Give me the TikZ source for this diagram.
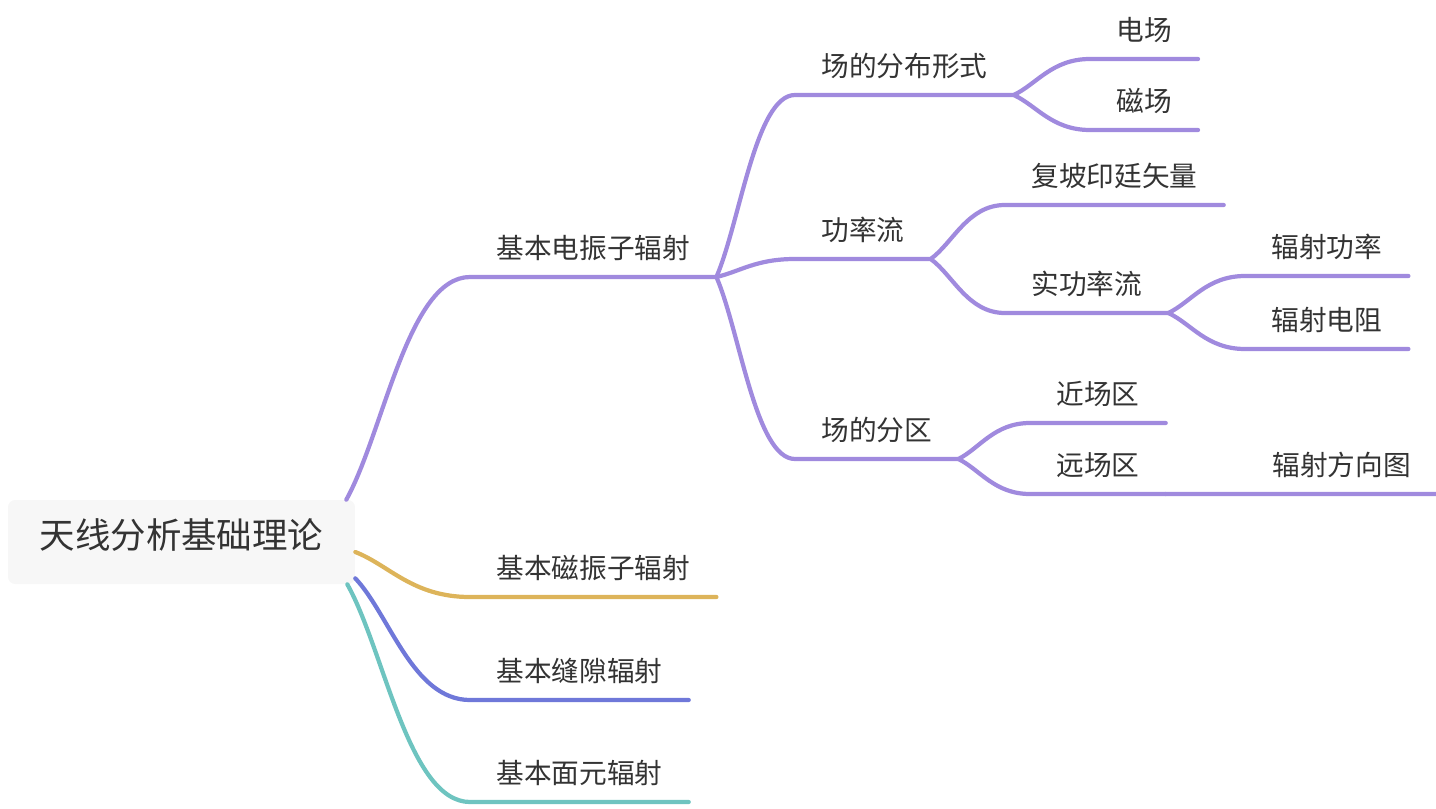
\documentclass[tikz,border=0pt]{standalone}
\usepackage{fontspec}
\newfontfamily\cjk{Noto Sans CJK SC}
\usepackage{tikz}
\usetikzlibrary{positioning,calc}
\definecolor{purp}{HTML}{A08ADE}
\definecolor{gold}{HTML}{DDB45A}
\definecolor{indigo}{HTML}{6F78D9}
\definecolor{teal}{HTML}{6EC4C0}
\definecolor{ink}{HTML}{333333}
\definecolor{rootfill}{HTML}{F7F7F7}

\begin{document}
\begin{tikzpicture}[
    x=0.02cm, y=-0.02cm,
    topic/.style={anchor=south west, inner xsep=0.52cm, inner ysep=0pt, text height=0.6cm, text depth=0.37cm, text=ink, font=\cjk\fontsize{15.75}{18}\selectfont},
    rootbox/.style={fill=rootfill, rounded corners=4pt, minimum width=6.94cm, minimum height=1.68cm, text height=0.75em, text depth=0pt, text=ink, font=\cjk\fontsize{20.2}{24}\selectfont},
    line/.style={line width=2.4pt, line cap=round},
    branch/.style={to path={let \p1=(\tikztostart), \p2=(\tikztotarget) in
      .. controls ($(\p1)!0.3!(\p2)$) and ({0.5*\x1+0.5*\x2},\y2) .. (\tikztotarget) \tikztonodes}}
  ]
    \useasboundingbox (0,0) rectangle (1436,808);

    \node[rootbox] (root) at (181.5,542) {天线分析基础理论};

    % first level
    \node[topic] (e1) at (470,277) {基本电振子辐射};
    \node[topic] (e2) at (470,597) {基本磁振子辐射};
    \node[topic] (e3) at (470,700) {基本缝隙辐射};
    \node[topic] (e4) at (470,802) {基本面元辐射};

    % second level
    \node[topic] (f1) at (795,95) {场的分布形式};
    \node[topic] (f2) at (795,259) {功率流};
    \node[topic] (f3) at (795,459) {场的分区};

    % third level
    \node[topic] (g1) at (1090,59) {电场};
    \node[topic] (g2) at (1090,130) {磁场};
    \node[topic] (h1) at (1005,205) {复坡印廷矢量};
    \node[topic] (h2) at (1005,313) {实功率流};
    \node[topic] (i1) at (1245,276) {辐射功率};
    \node[topic] (i2) at (1245,349) {辐射电阻};
    \node[topic] (j1) at (1030,423) {近场区};
    \node[topic] (j2) at (1030,494) {远场区};
    \node[topic] (k1) at (1246,494) {辐射方向图};

    \draw[line, purp] ($(root.north east)+(-9,0)$) to[branch] (e1.south west) -- (e1.south east);
    \draw[line, gold] ($(root.east)+(0,10)$) to[branch] (e2.south west) -- (e2.south east);
    \draw[line, indigo] ($(root.south east)+(0,-6)$) to[branch] (e3.south west) -- (e3.south east);
    \draw[line, teal] ($(root.south east)+(-8,0)$) to[branch] (e4.south west) -- (e4.south east);

    \foreach \a/\b in {e1/f1, e1/f2, e1/f3, f1/g1, f1/g2, f2/h1, f2/h2, h2/i1, h2/i2, f3/j1, f3/j2, j2/k1}
      \draw[line, purp] (\a.south east) to[branch] (\b.south west) -- (\b.south east);
  \end{tikzpicture}
\end{document}
